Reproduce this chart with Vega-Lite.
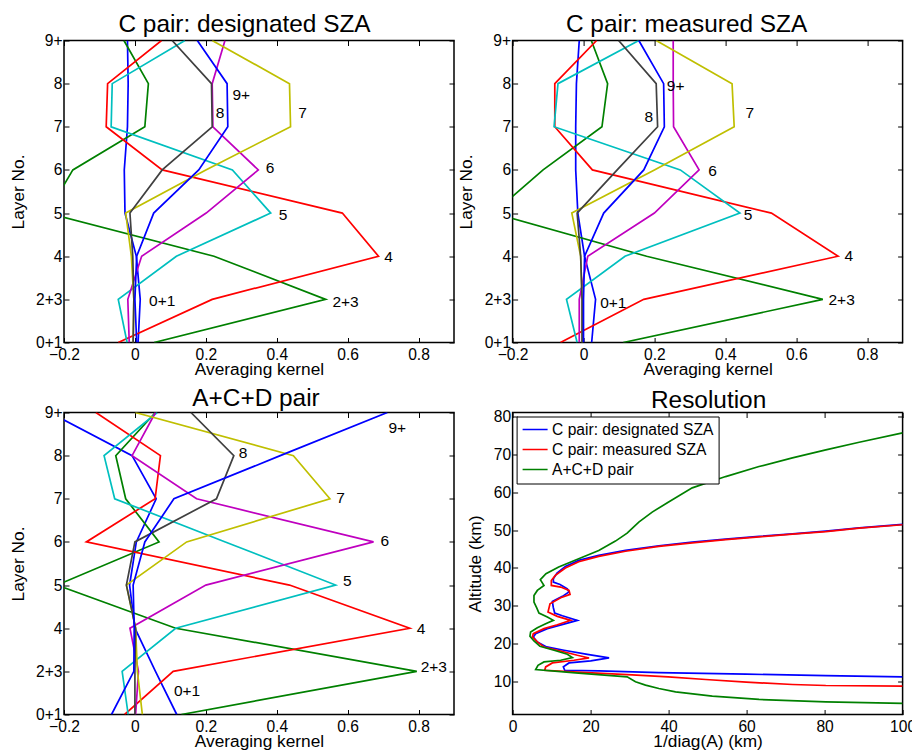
{
 "$schema": "https://vega.github.io/schema/vega-lite/v6.json",
 "background": "white",
 "padding": {"left": 8, "top": 10.5, "right": 0, "bottom": 0},
 "columns": 2,
 "spacing": {"row": 70, "column": 58.6},
 "bounds": "flush",
 "resolve": {"scale": {"color": "independent"}, "legend": {"color": "independent"}},
 "config": {
  "font": "Liberation Sans",
  "view": {"stroke": "black", "strokeWidth": 1.5},
  "axis": {"labelFont": "Liberation Sans", "labelFontSize": 15.6, "labelColor": "black", "titleFont": "Liberation Sans", "titleFontSize": 17.3, "titleFontWeight": "normal", "titleColor": "black", "tickColor": "black", "tickSize": -5, "tickWidth": 1, "domain": false, "grid": false, "labelFlush": false, "labelOverlap": false},
  "title": {"font": "Liberation Sans", "fontSize": 24.4, "fontWeight": "normal", "color": "black", "baseline": "alphabetic", "frame": "group", "anchor": "middle"},
  "text": {"font": "Liberation Sans"}
 },
 "datasets": {
  "des": [
   {"k":"0+1","layer":0,"ak":0.009},{"k":"0+1","layer":1,"ak":0.015},{"k":"0+1","layer":2,"ak":0.004},{"k":"0+1","layer":3,"ak":-0.028},{"k":"0+1","layer":4,"ak":-0.030},{"k":"0+1","layer":5,"ak":-0.021},{"k":"0+1","layer":6,"ak":-0.019},{"k":"0+1","layer":7,"ak":-0.021},
   {"k":"2+3","layer":0,"ak":0.054},{"k":"2+3","layer":1,"ak":0.538},{"k":"2+3","layer":2,"ak":0.223},{"k":"2+3","layer":3,"ak":-0.247},{"k":"2+3","layer":4,"ak":-0.175},{"k":"2+3","layer":5,"ak":0.028},{"k":"2+3","layer":6,"ak":0.038},{"k":"2+3","layer":7,"ak":-0.031},
   {"k":"4","layer":0,"ak":-0.047},{"k":"4","layer":1,"ak":0.218},{"k":"4","layer":2,"ak":0.687},{"k":"4","layer":3,"ak":0.585},{"k":"4","layer":4,"ak":0.077},{"k":"4","layer":5,"ak":-0.081},{"k":"4","layer":6,"ak":-0.077},{"k":"4","layer":7,"ak":0.075},
   {"k":"5","layer":0,"ak":-0.022},{"k":"5","layer":1,"ak":-0.047},{"k":"5","layer":2,"ak":0.117},{"k":"5","layer":3,"ak":0.383},{"k":"5","layer":4,"ak":0.275},{"k":"5","layer":5,"ak":-0.067},{"k":"5","layer":6,"ak":-0.064},{"k":"5","layer":7,"ak":0.141},
   {"k":"6","layer":0,"ak":-0.016},{"k":"6","layer":1,"ak":-0.020},{"k":"6","layer":2,"ak":0.019},{"k":"6","layer":3,"ak":0.201},{"k":"6","layer":4,"ak":0.348},{"k":"6","layer":5,"ak":0.220},{"k":"6","layer":6,"ak":0.218},{"k":"6","layer":7,"ak":0.254},
   {"k":"7","layer":0,"ak":-0.005},{"k":"7","layer":1,"ak":-0.003},{"k":"7","layer":2,"ak":-0.010},{"k":"7","layer":3,"ak":-0.026},{"k":"7","layer":4,"ak":0.200},{"k":"7","layer":5,"ak":0.439},{"k":"7","layer":6,"ak":0.436},{"k":"7","layer":7,"ak":0.218},
   {"k":"8","layer":0,"ak":-0.005},{"k":"8","layer":1,"ak":-0.003},{"k":"8","layer":2,"ak":-0.006},{"k":"8","layer":3,"ak":-0.014},{"k":"8","layer":4,"ak":0.077},{"k":"8","layer":5,"ak":0.218},{"k":"8","layer":6,"ak":0.216},{"k":"8","layer":7,"ak":0.105},
   {"k":"9+","layer":0,"ak":0.005},{"k":"9+","layer":1,"ak":0.000},{"k":"9+","layer":2,"ak":0.005},{"k":"9+","layer":3,"ak":0.053},{"k":"9+","layer":4,"ak":0.180},{"k":"9+","layer":5,"ak":0.262},{"k":"9+","layer":6,"ak":0.260},{"k":"9+","layer":7,"ak":0.176}
  ],
  "meas": [
   {"k":"0+1","layer":0,"ak":0.023},{"k":"0+1","layer":1,"ak":0.034},{"k":"0+1","layer":2,"ak":0.003},{"k":"0+1","layer":3,"ak":-0.016},{"k":"0+1","layer":4,"ak":-0.022},{"k":"0+1","layer":5,"ak":-0.022},{"k":"0+1","layer":6,"ak":-0.020},{"k":"0+1","layer":7,"ak":-0.012},
   {"k":"2+3","layer":0,"ak":0.112},{"k":"2+3","layer":1,"ak":0.675},{"k":"2+3","layer":2,"ak":0.178},{"k":"2+3","layer":3,"ak":-0.255},{"k":"2+3","layer":4,"ak":-0.114},{"k":"2+3","layer":5,"ak":0.052},{"k":"2+3","layer":6,"ak":0.068},{"k":"2+3","layer":7,"ak":0.022},
   {"k":"4","layer":0,"ak":-0.065},{"k":"4","layer":1,"ak":0.170},{"k":"4","layer":2,"ak":0.718},{"k":"4","layer":3,"ak":0.530},{"k":"4","layer":4,"ak":0.025},{"k":"4","layer":5,"ak":-0.081},{"k":"4","layer":6,"ak":-0.081},{"k":"4","layer":7,"ak":0.037},
   {"k":"5","layer":0,"ak":-0.018},{"k":"5","layer":1,"ak":-0.048},{"k":"5","layer":2,"ak":0.117},{"k":"5","layer":3,"ak":0.441},{"k":"5","layer":4,"ak":0.273},{"k":"5","layer":5,"ak":-0.083},{"k":"5","layer":6,"ak":-0.072},{"k":"5","layer":7,"ak":0.156},
   {"k":"6","layer":0,"ak":-0.012},{"k":"6","layer":1,"ak":-0.012},{"k":"6","layer":2,"ak":0.012},{"k":"6","layer":3,"ak":0.200},{"k":"6","layer":4,"ak":0.326},{"k":"6","layer":5,"ak":0.254},{"k":"6","layer":6,"ak":0.253},{"k":"6","layer":7,"ak":0.253},
   {"k":"7","layer":0,"ak":-0.004},{"k":"7","layer":1,"ak":-0.004},{"k":"7","layer":2,"ak":-0.008},{"k":"7","layer":3,"ak":-0.033},{"k":"7","layer":4,"ak":0.200},{"k":"7","layer":5,"ak":0.425},{"k":"7","layer":6,"ak":0.419},{"k":"7","layer":7,"ak":0.205},
   {"k":"8","layer":0,"ak":-0.004},{"k":"8","layer":1,"ak":-0.004},{"k":"8","layer":2,"ak":-0.008},{"k":"8","layer":3,"ak":-0.018},{"k":"8","layer":4,"ak":0.095},{"k":"8","layer":5,"ak":0.209},{"k":"8","layer":6,"ak":0.205},{"k":"8","layer":7,"ak":0.099},
   {"k":"9+","layer":0,"ak":0.000},{"k":"9+","layer":1,"ak":0.000},{"k":"9+","layer":2,"ak":0.003},{"k":"9+","layer":3,"ak":0.057},{"k":"9+","layer":4,"ak":0.170},{"k":"9+","layer":5,"ak":0.228},{"k":"9+","layer":6,"ak":0.226},{"k":"9+","layer":7,"ak":0.156}
  ],
  "acd": [
   {"k":"0+1","layer":0,"ak":0.118},{"k":"0+1","layer":1,"ak":0.058},{"k":"0+1","layer":2,"ak":0.000},{"k":"0+1","layer":3,"ak":-0.015},{"k":"0+1","layer":4,"ak":0.004},{"k":"0+1","layer":5,"ak":0.060},{"k":"0+1","layer":6,"ak":-0.008},{"k":"0+1","layer":7,"ak":-0.240},
   {"k":"2+3","layer":0,"ak":0.131},{"k":"2+3","layer":1,"ak":0.795},{"k":"2+3","layer":2,"ak":0.115},{"k":"2+3","layer":3,"ak":-0.220},{"k":"2+3","layer":4,"ak":0.068},{"k":"2+3","layer":5,"ak":-0.026},{"k":"2+3","layer":6,"ak":-0.054},{"k":"2+3","layer":7,"ak":0.058},
   {"k":"4","layer":0,"ak":-0.029},{"k":"4","layer":1,"ak":0.108},{"k":"4","layer":2,"ak":0.775},{"k":"4","layer":3,"ak":0.436},{"k":"4","layer":4,"ak":-0.137},{"k":"4","layer":5,"ak":0.057},{"k":"4","layer":6,"ak":0.072},{"k":"4","layer":7,"ak":-0.110},
   {"k":"5","layer":0,"ak":-0.019},{"k":"5","layer":1,"ak":-0.036},{"k":"5","layer":2,"ak":0.115},{"k":"5","layer":3,"ak":0.566},{"k":"5","layer":4,"ak":0.255},{"k":"5","layer":5,"ak":-0.057},{"k":"5","layer":6,"ak":-0.087},{"k":"5","layer":7,"ak":0.063},
   {"k":"6","layer":0,"ak":0.002},{"k":"6","layer":1,"ak":0.010},{"k":"6","layer":2,"ak":-0.014},{"k":"6","layer":3,"ak":0.200},{"k":"6","layer":4,"ak":0.673},{"k":"6","layer":5,"ak":0.174},{"k":"6","layer":6,"ak":-0.008},{"k":"6","layer":7,"ak":0.058},
   {"k":"7","layer":0,"ak":0.021},{"k":"7","layer":1,"ak":0.007},{"k":"7","layer":2,"ak":0.002},{"k":"7","layer":3,"ak":-0.024},{"k":"7","layer":4,"ak":0.146},{"k":"7","layer":5,"ak":0.550},{"k":"7","layer":6,"ak":0.447},{"k":"7","layer":7,"ak":0.001},
   {"k":"8","layer":0,"ak":0.000},{"k":"8","layer":1,"ak":0.000},{"k":"8","layer":2,"ak":0.002},{"k":"8","layer":3,"ak":-0.024},{"k":"8","layer":4,"ak":0.000},{"k":"8","layer":5,"ak":0.230},{"k":"8","layer":6,"ak":0.279},{"k":"8","layer":7,"ak":0.158},
   {"k":"9+","layer":0,"ak":-0.066},{"k":"9+","layer":1,"ak":-0.003},{"k":"9+","layer":2,"ak":-0.002},{"k":"9+","layer":3,"ak":-0.005},{"k":"9+","layer":4,"ak":0.028},{"k":"9+","layer":5,"ak":0.110},{"k":"9+","layer":6,"ak":0.410},{"k":"9+","layer":7,"ak":0.712}
  ],
  "desLab": [
   {"label":"9+","ak":0.275,"layer":5.73},{"label":"8","ak":0.228,"layer":5.33},{"label":"7","ak":0.461,"layer":5.33},{"label":"6","ak":0.369,"layer":4.04},{"label":"5","ak":0.406,"layer":2.96},{"label":"4","ak":0.703,"layer":1.98},{"label":"2+3","ak":0.557,"layer":0.95},{"label":"0+1","ak":0.040,"layer":0.96}
  ],
  "measLab": [
   {"label":"9+","ak":0.235,"layer":5.95},{"label":"8","ak":0.172,"layer":5.23},{"label":"7","ak":0.457,"layer":5.33},{"label":"6","ak":0.352,"layer":3.98},{"label":"5","ak":0.452,"layer":2.96},{"label":"4","ak":0.736,"layer":2.0},{"label":"2+3","ak":0.691,"layer":0.98},{"label":"0+1","ak":0.047,"layer":0.92}
  ],
  "acdLab": [
   {"label":"9+","ak":0.715,"layer":6.65},{"label":"8","ak":0.293,"layer":6.05},{"label":"7","ak":0.568,"layer":5.02},{"label":"6","ak":0.693,"layer":4.01},{"label":"5","ak":0.587,"layer":3.1},{"label":"4","ak":0.795,"layer":1.99},{"label":"2+3","ak":0.806,"layer":1.09},{"label":"0+1","ak":0.110,"layer":0.55}
  ],
  "res": [
   {"s":"C pair: designated SZA","i":1,"r":100,"alt":51.48},{"s":"C pair: designated SZA","i":2,"r":88.87,"alt":50.6},{"s":"C pair: designated SZA","i":3,"r":80.31,"alt":49.72},{"s":"C pair: designated SZA","i":4,"r":71.75,"alt":49.01},{"s":"C pair: designated SZA","i":5,"r":63.18,"alt":48.31},{"s":"C pair: designated SZA","i":6,"r":54.62,"alt":47.61},{"s":"C pair: designated SZA","i":7,"r":46.06,"alt":46.81},{"s":"C pair: designated SZA","i":8,"r":37.5,"alt":45.85},{"s":"C pair: designated SZA","i":9,"r":28.94,"alt":44.61},{"s":"C pair: designated SZA","i":10,"r":22.09,"alt":43.29},{"s":"C pair: designated SZA","i":11,"r":16.95,"alt":41.97},{"s":"C pair: designated SZA","i":12,"r":13.53,"alt":40.39},{"s":"C pair: designated SZA","i":13,"r":11.39,"alt":38.63},{"s":"C pair: designated SZA","i":14,"r":10.45,"alt":37.11},{"s":"C pair: designated SZA","i":15,"r":10.45,"alt":36.23},{"s":"C pair: designated SZA","i":16,"r":12.16,"alt":35.62},{"s":"C pair: designated SZA","i":17,"r":14.04,"alt":34.47},{"s":"C pair: designated SZA","i":18,"r":14.47,"alt":33.59},{"s":"C pair: designated SZA","i":19,"r":12.76,"alt":32.45},{"s":"C pair: designated SZA","i":20,"r":10.19,"alt":31.13},{"s":"C pair: designated SZA","i":21,"r":10.45,"alt":29.45},{"s":"C pair: designated SZA","i":22,"r":10.79,"alt":28.05},{"s":"C pair: designated SZA","i":23,"r":12.76,"alt":27.34},{"s":"C pair: designated SZA","i":24,"r":16.61,"alt":26.11},{"s":"C pair: designated SZA","i":25,"r":13.61,"alt":25.23},{"s":"C pair: designated SZA","i":26,"r":8.9,"alt":23.91},{"s":"C pair: designated SZA","i":27,"r":5.91,"alt":22.59},{"s":"C pair: designated SZA","i":28,"r":5.31,"alt":21.71},{"s":"C pair: designated SZA","i":29,"r":6.34,"alt":20.39},{"s":"C pair: designated SZA","i":30,"r":8.73,"alt":19.07},{"s":"C pair: designated SZA","i":31,"r":13.18,"alt":18.19},{"s":"C pair: designated SZA","i":32,"r":19.18,"alt":17.13},{"s":"C pair: designated SZA","i":33,"r":24.74,"alt":16.16},{"s":"C pair: designated SZA","i":34,"r":20.03,"alt":15.37},{"s":"C pair: designated SZA","i":35,"r":14.47,"alt":14.84},{"s":"C pair: designated SZA","i":36,"r":13.01,"alt":13.79},{"s":"C pair: designated SZA","i":37,"r":13.36,"alt":12.9},{"s":"C pair: designated SZA","i":38,"r":22.1,"alt":12.75},{"s":"C pair: designated SZA","i":39,"r":37.5,"alt":12.3},{"s":"C pair: designated SZA","i":40,"r":59.9,"alt":11.87},{"s":"C pair: designated SZA","i":41,"r":80.3,"alt":11.5},{"s":"C pair: designated SZA","i":42,"r":100,"alt":11.16},
   {"s":"C pair: measured SZA","i":1,"r":100,"alt":51.4},{"s":"C pair: measured SZA","i":2,"r":88.87,"alt":50.5},{"s":"C pair: measured SZA","i":3,"r":80.31,"alt":49.6},{"s":"C pair: measured SZA","i":4,"r":71.75,"alt":48.9},{"s":"C pair: measured SZA","i":5,"r":63.18,"alt":48.2},{"s":"C pair: measured SZA","i":6,"r":54.62,"alt":47.45},{"s":"C pair: measured SZA","i":7,"r":46.06,"alt":46.6},{"s":"C pair: measured SZA","i":8,"r":37.5,"alt":45.67},{"s":"C pair: measured SZA","i":9,"r":28.94,"alt":44.4},{"s":"C pair: measured SZA","i":10,"r":22.09,"alt":43.05},{"s":"C pair: measured SZA","i":11,"r":16.95,"alt":41.6},{"s":"C pair: measured SZA","i":12,"r":13.53,"alt":39.95},{"s":"C pair: measured SZA","i":13,"r":10.96,"alt":38.0},{"s":"C pair: measured SZA","i":14,"r":9.93,"alt":36.67},{"s":"C pair: measured SZA","i":15,"r":9.93,"alt":35.35},{"s":"C pair: measured SZA","i":16,"r":12.33,"alt":34.91},{"s":"C pair: measured SZA","i":17,"r":14.47,"alt":34.03},{"s":"C pair: measured SZA","i":18,"r":14.73,"alt":32.98},{"s":"C pair: measured SZA","i":19,"r":12.33,"alt":32.1},{"s":"C pair: measured SZA","i":20,"r":9.59,"alt":30.51},{"s":"C pair: measured SZA","i":21,"r":9.08,"alt":28.31},{"s":"C pair: measured SZA","i":22,"r":11.47,"alt":27.17},{"s":"C pair: measured SZA","i":23,"r":14.9,"alt":26.11},{"s":"C pair: measured SZA","i":24,"r":11.47,"alt":24.96},{"s":"C pair: measured SZA","i":25,"r":8.05,"alt":23.91},{"s":"C pair: measured SZA","i":26,"r":5.31,"alt":22.59},{"s":"C pair: measured SZA","i":27,"r":5.05,"alt":21.71},{"s":"C pair: measured SZA","i":28,"r":6.34,"alt":20.39},{"s":"C pair: measured SZA","i":29,"r":8.05,"alt":19.07},{"s":"C pair: measured SZA","i":30,"r":12.33,"alt":18.01},{"s":"C pair: measured SZA","i":31,"r":16.61,"alt":16.87},{"s":"C pair: measured SZA","i":32,"r":19.61,"alt":16.16},{"s":"C pair: measured SZA","i":33,"r":15.75,"alt":15.55},{"s":"C pair: measured SZA","i":34,"r":10.19,"alt":14.84},{"s":"C pair: measured SZA","i":35,"r":8.48,"alt":13.79},{"s":"C pair: measured SZA","i":36,"r":8.22,"alt":12.9},{"s":"C pair: measured SZA","i":37,"r":20.4,"alt":12.2},{"s":"C pair: measured SZA","i":38,"r":30.65,"alt":11.69},{"s":"C pair: measured SZA","i":39,"r":39.9,"alt":11.16},{"s":"C pair: measured SZA","i":40,"r":49.5,"alt":10.46},{"s":"C pair: measured SZA","i":41,"r":59.93,"alt":9.75},{"s":"C pair: measured SZA","i":42,"r":71.75,"alt":9.14},{"s":"C pair: measured SZA","i":43,"r":80.31,"alt":8.87},{"s":"C pair: measured SZA","i":44,"r":100,"alt":8.7},
   {"s":"A+C+D pair","i":1,"r":100,"alt":75.69},{"s":"A+C+D pair","i":2,"r":88.87,"alt":73.22},{"s":"A+C+D pair","i":3,"r":80.31,"alt":71.2},{"s":"A+C+D pair","i":4,"r":71.75,"alt":69.08},{"s":"A+C+D pair","i":5,"r":63.18,"alt":66.8},{"s":"A+C+D pair","i":6,"r":54.62,"alt":64.15},{"s":"A+C+D pair","i":7,"r":46.06,"alt":61.16},{"s":"A+C+D pair","i":8,"r":39.9,"alt":57.38},{"s":"A+C+D pair","i":9,"r":35.79,"alt":54.74},{"s":"A+C+D pair","i":10,"r":32.36,"alt":52.1},{"s":"A+C+D pair","i":11,"r":29.37,"alt":49.19},{"s":"A+C+D pair","i":12,"r":26.37,"alt":47.08},{"s":"A+C+D pair","i":13,"r":22.09,"alt":44.61},{"s":"A+C+D pair","i":14,"r":16.95,"alt":42.41},{"s":"A+C+D pair","i":15,"r":11.82,"alt":40.21},{"s":"A+C+D pair","i":16,"r":8.56,"alt":38.45},{"s":"A+C+D pair","i":17,"r":7.11,"alt":36.87},{"s":"A+C+D pair","i":18,"r":8.05,"alt":35.35},{"s":"A+C+D pair","i":19,"r":6.34,"alt":34.03},{"s":"A+C+D pair","i":20,"r":5.48,"alt":32.71},{"s":"A+C+D pair","i":21,"r":5.48,"alt":30.95},{"s":"A+C+D pair","i":22,"r":6.16,"alt":29.45},{"s":"A+C+D pair","i":23,"r":6.76,"alt":28.05},{"s":"A+C+D pair","i":24,"r":8.9,"alt":27.0},{"s":"A+C+D pair","i":25,"r":10.45,"alt":26.11},{"s":"A+C+D pair","i":26,"r":8.48,"alt":25.23},{"s":"A+C+D pair","i":27,"r":6.34,"alt":24.17},{"s":"A+C+D pair","i":28,"r":4.62,"alt":23.03},{"s":"A+C+D pair","i":29,"r":4.45,"alt":21.88},{"s":"A+C+D pair","i":30,"r":5.48,"alt":20.65},{"s":"A+C+D pair","i":31,"r":7.02,"alt":19.24},{"s":"A+C+D pair","i":32,"r":10.62,"alt":18.19},{"s":"A+C+D pair","i":33,"r":14.04,"alt":17.13},{"s":"A+C+D pair","i":34,"r":15.33,"alt":16.25},{"s":"A+C+D pair","i":35,"r":12.33,"alt":15.55},{"s":"A+C+D pair","i":36,"r":8.05,"alt":15.11},{"s":"A+C+D pair","i":37,"r":6.51,"alt":14.23},{"s":"A+C+D pair","i":38,"r":5.91,"alt":13.08},{"s":"A+C+D pair","i":39,"r":16.1,"alt":12.2},{"s":"A+C+D pair","i":40,"r":29.37,"alt":11.16},{"s":"A+C+D pair","i":41,"r":31.51,"alt":9.84},{"s":"A+C+D pair","i":42,"r":34.08,"alt":8.96},{"s":"A+C+D pair","i":43,"r":37.5,"alt":8.08},{"s":"A+C+D pair","i":44,"r":41.78,"alt":7.2},{"s":"A+C+D pair","i":45,"r":51.2,"alt":6.06},{"s":"A+C+D pair","i":46,"r":63.18,"alt":5.18},{"s":"A+C+D pair","i":47,"r":80.31,"alt":4.56},{"s":"A+C+D pair","i":48,"r":100,"alt":4.12}
  ]
 },
 "concat": [
  {
   "width": 390, "height": 302,
   "title": {"text": "C pair: designated SZA", "offset": -3.7, "dx": -14.5},
   "layer": [
    {"data": {"name": "des"}, "mark": {"type": "line", "clip": true, "strokeWidth": 1.7},
     "encoding": {
      "x": {"field": "ak", "type": "quantitative", "scale": {"domain": [-0.2, 0.9], "nice": false, "zero": false}, "axis": {"orient": "bottom", "values": [-0.2, 0, 0.2, 0.4, 0.6, 0.8], "format": "~g", "title": "Averaging kernel", "labelPadding": 10, "titlePadding": -2.6}},
      "y": {"field": "layer", "type": "quantitative", "scale": {"domain": [0, 7], "nice": false, "zero": false}, "axis": {"orient": "left", "values": [0, 1, 2, 3, 4, 5, 6, 7], "labelExpr": "['0+1','2+3','4','5','6','7','8','9+'][datum.value]", "title": "Layer No.", "labelPadding": 7, "titlePadding": 8.5}},
      "color": {"field": "k", "type": "nominal", "scale": {"domain": ["0+1","2+3","4","5","6","7","8","9+"], "range": ["#0000ff","#008000","#ff0000","#00bfbf","#bf00bf","#bfbf00","#404040","#0000ff"]}, "legend": null},
      "order": {"field": "layer", "type": "quantitative"}
     }},
    {"data": {"name": "desLab"}, "mark": {"type": "text", "align": "left", "baseline": "middle", "fontSize": 15.5, "color": "black"},
     "encoding": {
      "x": {"field": "ak", "type": "quantitative", "scale": {"domain": [-0.2, 0.9], "nice": false, "zero": false}, "axis": {"orient": "top", "values": [-0.2, 0, 0.2, 0.4, 0.6, 0.8], "labels": false, "title": null, "minExtent": 0}},
      "y": {"field": "layer", "type": "quantitative", "scale": {"domain": [0, 7], "nice": false, "zero": false}, "axis": {"orient": "right", "values": [0, 1, 2, 3, 4, 5, 6, 7], "labels": false, "title": null, "minExtent": 0}},
      "text": {"field": "label", "type": "nominal"}
     }}
   ],
   "resolve": {"axis": {"x": "independent", "y": "independent"}}
  },
  {
   "width": 390, "height": 302,
   "title": {"text": "C pair: measured SZA", "offset": -3.7, "dx": -21},
   "layer": [
    {"data": {"name": "meas"}, "mark": {"type": "line", "clip": true, "strokeWidth": 1.7},
     "encoding": {
      "x": {"field": "ak", "type": "quantitative", "scale": {"domain": [-0.2, 0.9], "nice": false, "zero": false}, "axis": {"orient": "bottom", "values": [-0.2, 0, 0.2, 0.4, 0.6, 0.8], "format": "~g", "title": "Averaging kernel", "labelPadding": 10, "titlePadding": -2.6}},
      "y": {"field": "layer", "type": "quantitative", "scale": {"domain": [0, 7], "nice": false, "zero": false}, "axis": {"orient": "left", "values": [0, 1, 2, 3, 4, 5, 6, 7], "labelExpr": "['0+1','2+3','4','5','6','7','8','9+'][datum.value]", "title": "Layer No.", "labelPadding": 7, "titlePadding": 8.5}},
      "color": {"field": "k", "type": "nominal", "scale": {"domain": ["0+1","2+3","4","5","6","7","8","9+"], "range": ["#0000ff","#008000","#ff0000","#00bfbf","#bf00bf","#bfbf00","#404040","#0000ff"]}, "legend": null},
      "order": {"field": "layer", "type": "quantitative"}
     }},
    {"data": {"name": "measLab"}, "mark": {"type": "text", "align": "left", "baseline": "middle", "fontSize": 15.5, "color": "black"},
     "encoding": {
      "x": {"field": "ak", "type": "quantitative", "scale": {"domain": [-0.2, 0.9], "nice": false, "zero": false}, "axis": {"orient": "top", "values": [-0.2, 0, 0.2, 0.4, 0.6, 0.8], "labels": false, "title": null, "minExtent": 0}},
      "y": {"field": "layer", "type": "quantitative", "scale": {"domain": [0, 7], "nice": false, "zero": false}, "axis": {"orient": "right", "values": [0, 1, 2, 3, 4, 5, 6, 7], "labels": false, "title": null, "minExtent": 0}},
      "text": {"field": "label", "type": "nominal"}
     }}
   ],
   "resolve": {"axis": {"x": "independent", "y": "independent"}}
  },
  {
   "width": 390, "height": 302,
   "title": {"text": "A+C+D pair", "offset": -6.3, "dx": -3},
   "layer": [
    {"data": {"name": "acd"}, "mark": {"type": "line", "clip": true, "strokeWidth": 1.7},
     "encoding": {
      "x": {"field": "ak", "type": "quantitative", "scale": {"domain": [-0.2, 0.9], "nice": false, "zero": false}, "axis": {"orient": "bottom", "values": [-0.2, 0, 0.2, 0.4, 0.6, 0.8], "format": "~g", "title": "Averaging kernel", "labelPadding": 10, "titlePadding": -2.6}},
      "y": {"field": "layer", "type": "quantitative", "scale": {"domain": [0, 7], "nice": false, "zero": false}, "axis": {"orient": "left", "values": [0, 1, 2, 3, 4, 5, 6, 7], "labelExpr": "['0+1','2+3','4','5','6','7','8','9+'][datum.value]", "title": "Layer No.", "labelPadding": 7, "titlePadding": 8.5}},
      "color": {"field": "k", "type": "nominal", "scale": {"domain": ["0+1","2+3","4","5","6","7","8","9+"], "range": ["#0000ff","#008000","#ff0000","#00bfbf","#bf00bf","#bfbf00","#404040","#0000ff"]}, "legend": null},
      "order": {"field": "layer", "type": "quantitative"}
     }},
    {"data": {"name": "acdLab"}, "mark": {"type": "text", "align": "left", "baseline": "middle", "fontSize": 15.5, "color": "black"},
     "encoding": {
      "x": {"field": "ak", "type": "quantitative", "scale": {"domain": [-0.2, 0.9], "nice": false, "zero": false}, "axis": {"orient": "top", "values": [-0.2, 0, 0.2, 0.4, 0.6, 0.8], "labels": false, "title": null, "minExtent": 0}},
      "y": {"field": "layer", "type": "quantitative", "scale": {"domain": [0, 7], "nice": false, "zero": false}, "axis": {"orient": "right", "values": [0, 1, 2, 3, 4, 5, 6, 7], "labels": false, "title": null, "minExtent": 0}},
      "text": {"field": "label", "type": "nominal"}
     }}
   ],
   "resolve": {"axis": {"x": "independent", "y": "independent"}}
  },
  {
   "width": 390, "height": 302,
   "title": {"text": "Resolution", "offset": -3.8, "dx": 1},
   "data": {"name": "res"},
   "layer": [
    {"mark": {"type": "line", "clip": true, "strokeWidth": 1.7},
     "encoding": {
      "x": {"field": "r", "type": "quantitative", "scale": {"domain": [0, 100], "nice": false, "zero": false}, "axis": {"orient": "bottom", "values": [0, 20, 40, 60, 80, 100], "title": "1/diag(A) (km)", "labelPadding": 10, "titlePadding": -2.6}},
      "y": {"field": "alt", "type": "quantitative", "scale": {"domain": [1.2, 81.1], "nice": false, "zero": false}, "axis": {"orient": "left", "values": [10, 20, 30, 40, 50, 60, 70, 80], "title": "Altitude (km)", "labelPadding": 7, "titlePadding": 9}},
      "color": {"field": "s", "type": "nominal", "scale": {"domain": ["C pair: designated SZA", "C pair: measured SZA", "A+C+D pair"], "range": ["#0000ff", "#ff0000", "#008000"]},
        "legend": {"orient": "top-left", "offset": 3.5, "title": null, "strokeColor": "black", "fillColor": "white", "padding": 5, "symbolType": "stroke", "symbolSize": 625, "symbolStrokeWidth": 1.7, "labelFontSize": 15.6, "labelFont": "Liberation Sans", "labelColor": "black", "labelLimit": 400, "rowPadding": 3, "labelOffset": 3.5, "clipHeight": 16, "cornerRadius": 0}},
      "order": {"field": "i", "type": "quantitative"}
     }},
    {"mark": {"type": "point", "opacity": 0},
     "encoding": {
      "x": {"field": "r", "type": "quantitative", "scale": {"domain": [0, 100], "nice": false, "zero": false}, "axis": {"orient": "top", "values": [0, 20, 40, 60, 80, 100], "labels": false, "title": null, "minExtent": 0}},
      "y": {"field": "alt", "type": "quantitative", "scale": {"domain": [1.2, 81.1], "nice": false, "zero": false}, "axis": {"orient": "right", "values": [10, 20, 30, 40, 50, 60, 70, 80], "labels": false, "title": null, "minExtent": 0}}
     }}
   ],
   "resolve": {"axis": {"x": "independent", "y": "independent"}}
  }
 ]
}
